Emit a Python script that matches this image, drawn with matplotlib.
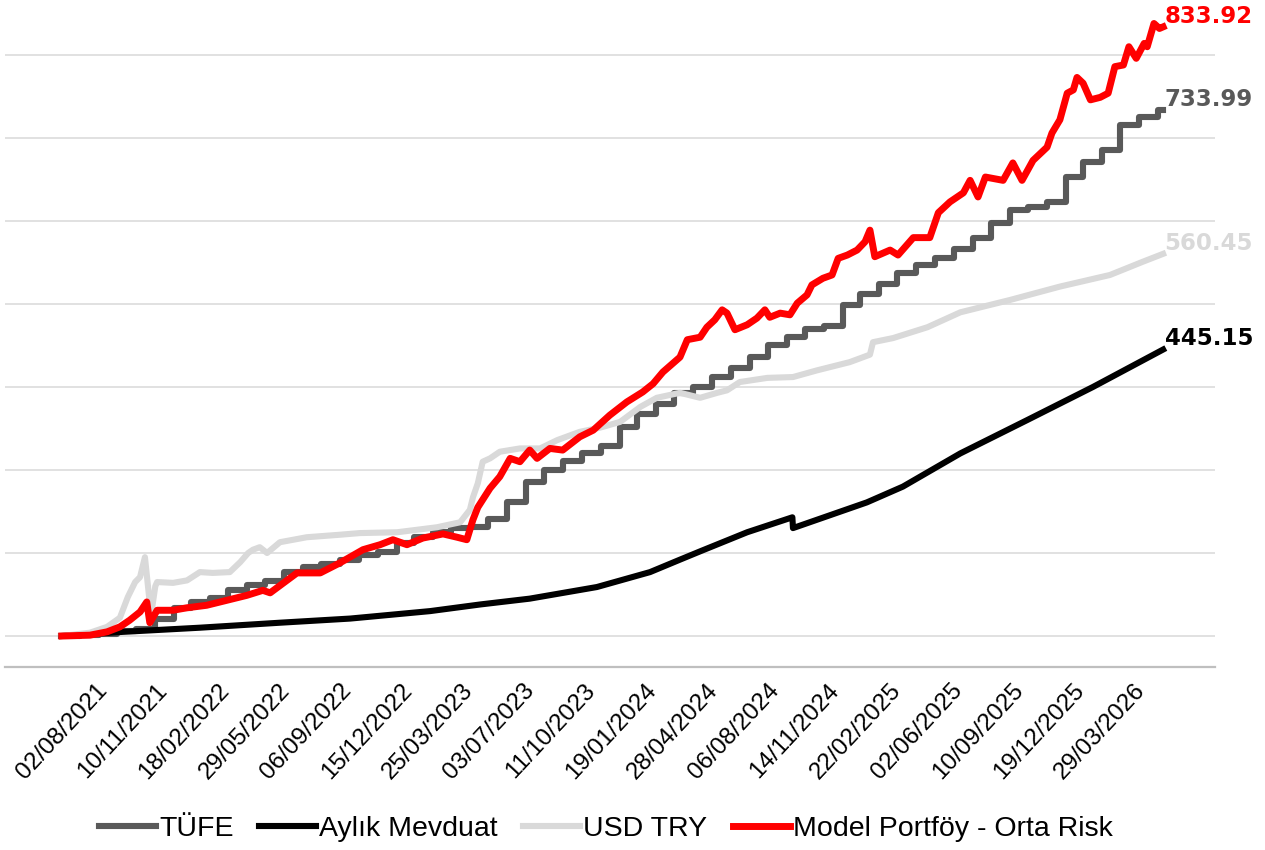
import pandas as pd
import matplotlib
matplotlib.use("Agg")
from matplotlib import pyplot as plt

start = pd.Timestamp("2021-08-02")

# TÜFE: aylık basamaklar (ay başı seviyeleri)
tufe_vals = [100, 101, 103, 106, 108, 120, 134, 141, 146, 156, 162, 166, 177, 183, 187, 192, 197,
             201, 212, 219, 225, 230, 231, 241, 262, 286, 300, 311, 320, 329, 352, 368, 380, 393,
             400, 412, 423, 436, 451, 460, 470, 473, 499, 512, 524, 537, 547, 556, 566, 580, 598,
             613, 617, 623, 653, 671, 686, 716, 725, 733.99]
tufe_end = "2026-07-10"

# Aylık Mevduat (gün, değer)
mevduat_days = [0, 100, 226, 357, 472, 603, 685, 766, 876, 963, 1012, 1045, 1122, 1196, 1197,
                1318, 1377, 1471, 1580, 1688, 1803]
mevduat_vals = [100, 105, 110, 116, 121, 130, 138, 145, 159, 177, 192, 202, 225, 243, 230,
                261, 280, 320, 360, 400, 445.15]

# USD TRY
usd_days = [0, 46, 74, 95, 108, 120, 128, 136, 146, 153, 156, 182, 205, 226, 247, 275, 292, 305,
            313, 324, 336, 357, 401, 455, 488, 549, 614, 652, 668, 673, 681, 689, 701, 717, 750,
            783, 811, 848, 881, 914, 947, 974, 1012, 1045, 1073, 1089, 1110, 1155, 1197, 1236,
            1290, 1323, 1328, 1361, 1417, 1471, 1553, 1634, 1716, 1770, 1803]
usd_vals = [100, 104, 111, 122, 147, 165, 171, 195, 125, 160, 165, 164, 167, 177, 176, 177, 189,
            200, 204, 207, 200, 213, 219, 222, 224, 225, 231, 237, 252, 267, 284, 310, 314, 322,
            326, 326, 336, 346, 351, 358, 376, 387, 393, 387, 393, 396, 406, 411, 412, 420, 430,
            439, 454, 459, 472, 490, 505, 521, 535, 551, 560.45]

# Model Portföy - Orta Risk
model_days = [0, 46, 74, 95, 111, 128, 139, 144, 156, 182, 205, 237, 270, 303, 329, 341, 385, 423,
              455, 493, 521, 542, 565, 591, 624, 647, 663, 673, 681, 701, 717, 734, 750, 766, 778,
              799, 820, 848, 870, 897, 925, 951, 968, 984, 1012, 1024, 1045, 1056, 1069, 1081,
              1089, 1102, 1122, 1138, 1151, 1159, 1176, 1192, 1204, 1220, 1228, 1246, 1261, 1271,
              1286, 1302, 1315, 1323, 1331, 1356, 1369, 1394, 1421, 1435, 1454, 1476, 1487, 1500,
              1512, 1541, 1557, 1572, 1590, 1613, 1621, 1634, 1646, 1656, 1662, 1672, 1684, 1700,
              1713, 1724, 1738, 1747, 1759, 1772, 1777, 1788, 1797, 1803]
model_vals = [100, 101, 105, 111, 119, 129, 141, 116, 131, 131, 134, 137, 143, 149, 155, 152, 176,
              176, 188, 204, 210, 216, 210, 218, 223, 219, 216, 240, 255, 278, 292, 314, 310, 324,
              314, 326, 324, 340, 348, 366, 382, 394, 404, 418, 436, 457, 460, 472, 481, 493, 489,
              469, 475, 483, 493, 484, 489, 487, 501, 511, 523, 531, 535, 555, 559, 565, 575, 589,
              557, 565, 559, 580, 580, 610, 623, 634, 649, 629, 653, 649, 670, 649, 673, 689, 706,
              722, 754, 758, 773, 766, 746, 749, 754, 786, 788, 810, 796, 814, 810, 838, 832, 833.92]

labels = ["TÜFE", "Aylık Mevduat", "USD TRY", "Model Portföy - Orta Risk"]
colors = ["#595959", "#000000", "#D9D9D9", "#FF0000"]


def to_dates(days):
    return start + pd.to_timedelta(days, unit="D")


tufe_dates = list(pd.date_range("2021-08-01", periods=len(tufe_vals), freq="MS")) + [pd.Timestamp(tufe_end)]
tufe_y = tufe_vals + [tufe_vals[-1]]

fig = plt.figure(figsize=(12.65, 8.5), dpi=100)
ax = fig.add_axes([0.004, 0.2153, 0.9565, 0.7847])

ax.plot(tufe_dates, tufe_y, color=colors[0], lw=4.4, drawstyle="steps-post", label=labels[0])
ax.plot(to_dates(mevduat_days), mevduat_vals, color=colors[1], lw=4.4, label=labels[1])
ax.plot(to_dates(usd_days), usd_vals, color=colors[2], lw=4.4, label=labels[2])
ax.plot(to_dates(model_days), model_vals, color=colors[3], lw=5.0, label=labels[3])

# son değer etiketleri
ends = [(tufe_dates[-1], tufe_y[-1]), (to_dates(mevduat_days)[-1], mevduat_vals[-1]),
        (to_dates(usd_days)[-1], usd_vals[-1]), (to_dates(model_days)[-1], model_vals[-1])]
for (xe, ye), c in zip(ends, colors):
    ax.annotate("{:.2f}".format(ye), (xe, ye), xytext=(1, 3), textcoords="offset points",
                ha="left", va="baseline", color=c, fontsize=16.5, fontweight="bold",
                family="DejaVu Sans", annotation_clip=False)

ax.set_ylim(62.65, 866.3)
ax.set_xlim(start - pd.Timedelta(days=93), start + pd.Timedelta(days=1888))
ax.set_yticks(range(100, 900, 100))
ax.yaxis.grid(True, color="#D9D9D9", lw=1.1)
ax.set_axisbelow(True)
ax.tick_params(axis="y", left=False, labelleft=False)

ticks = pd.date_range(start, periods=18, freq="100D")
ax.set_xticks(ticks)
ax.set_xticklabels([t.strftime("%d/%m/%Y") for t in ticks], rotation=47, ha="center", va="top",
                   fontsize=17.5, family=["Liberation Sans", "DejaVu Sans"])
ax.tick_params(axis="x", length=0, pad=9)

for s in ["top", "left", "right"]:
    ax.spines[s].set_visible(False)
ax.spines["bottom"].set_color("#BFBFBF")
ax.spines["bottom"].set_linewidth(1.6)

fig.legend(loc="center", bbox_to_anchor=(0.479, 0.025), ncol=4, frameon=False,
           handlelength=2.0, handletextpad=0.1, columnspacing=0.9,
           prop={"family": ["Liberation Sans", "DejaVu Sans"], "size": 20.5})

fig.savefig("out.png", dpi=100)
